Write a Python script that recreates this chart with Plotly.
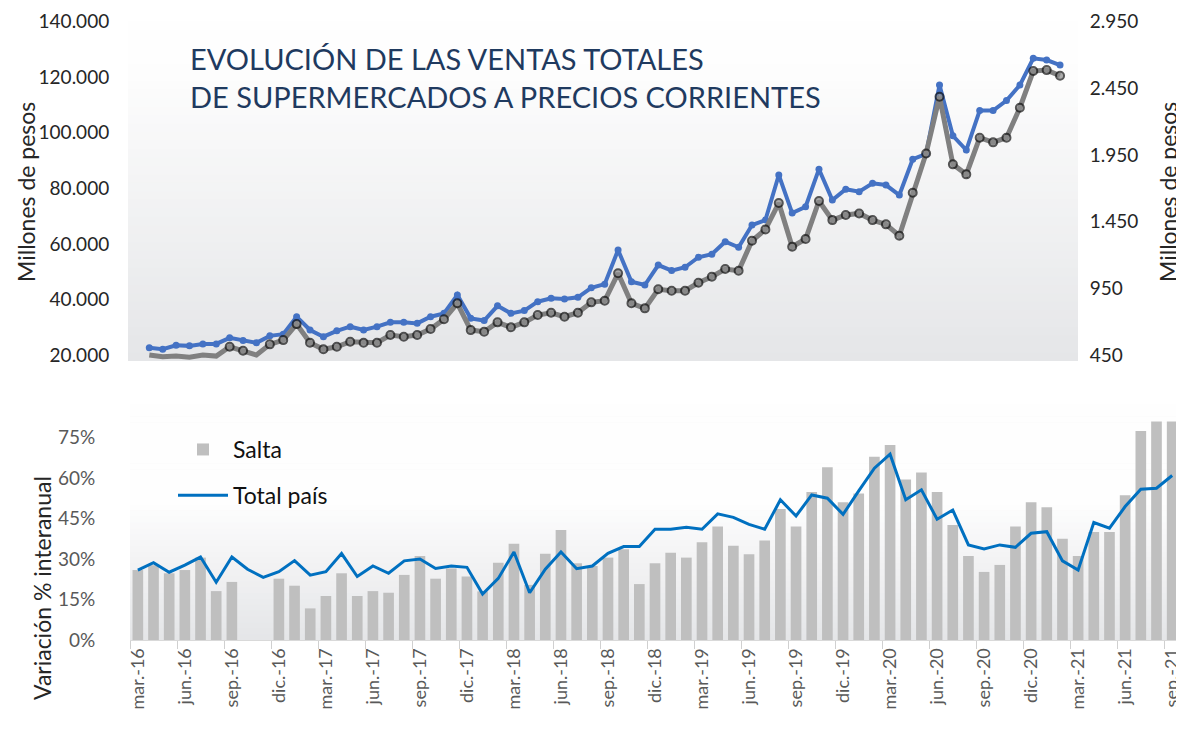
import plotly.graph_objects as go

# ---------------- data ----------------
meses_top = [
    "ene.-16", "feb.-16", "mar.-16", "abr.-16", "may.-16", "jun.-16", "jul.-16", "ago.-16", "sep.-16", "oct.-16", "nov.-16", "dic.-16",
    "ene.-17", "feb.-17", "mar.-17", "abr.-17", "may.-17", "jun.-17", "jul.-17", "ago.-17", "sep.-17", "oct.-17", "nov.-17", "dic.-17",
    "ene.-18", "feb.-18", "mar.-18", "abr.-18", "may.-18", "jun.-18", "jul.-18", "ago.-18", "sep.-18", "oct.-18", "nov.-18", "dic.-18",
    "ene.-19", "feb.-19", "mar.-19", "abr.-19", "may.-19", "jun.-19", "jul.-19", "ago.-19", "sep.-19", "oct.-19", "nov.-19", "dic.-19",
    "ene.-20", "feb.-20", "mar.-20", "abr.-20", "may.-20", "jun.-20", "jul.-20", "ago.-20", "sep.-20", "oct.-20", "nov.-20", "dic.-20",
    "ene.-21", "feb.-21", "mar.-21", "abr.-21", "may.-21", "jun.-21", "jul.-21", "ago.-21", "sep.-21",
]
meses_var = meses_top[2:]  # mar.-16 ... sep.-21

# Ventas a precios corrientes (millones de pesos)
ventas_total_pais = [
    22600, 22100, 23500, 23300, 24000, 24000, 26200, 25200, 24400, 26900,
    27500, 33800, 29000, 26600, 28700, 30200, 29000, 30200, 31800, 31800,
    31400, 33800, 35000, 41600, 33200, 32400, 37700, 35000, 36000, 39200,
    40400, 40200, 40800, 44200, 45500, 57800, 46400, 45200, 52400, 50400,
    51600, 55200, 56300, 60800, 58800, 66800, 68600, 84800, 71100, 73400,
    86900, 75800, 79700, 78800, 81800, 81200, 77600, 90500, 92400, 117200,
    98900, 93800, 108000, 108000, 111600, 117200, 126800, 126200, 124400,
]
ventas_salta = [
    450, 437, 442, 433, 450, 442, 512, 482, 450, 530,
    562, 682, 542, 493, 512, 550, 542, 542, 600, 587,
    600, 645, 718, 838, 637, 625, 695, 658, 695, 750,
    767, 737, 767, 845, 857, 1063, 838, 800, 943, 932,
    932, 992, 1037, 1095, 1082, 1307, 1392, 1590, 1262, 1320,
    1605, 1462, 1500, 1512, 1462, 1430, 1345, 1667, 1962, 2387,
    1880, 1805, 2080, 2045, 2080, 2305, 2580, 2587, 2545,
]
# months of the Salta series drawn without a marker
salta_sin_marcador = ["ene.-16", "feb.-16", "mar.-16", "abr.-16", "may.-16", "jun.-16", "sep.-16"]

# Variación % interanual
var_salta = [
    25.9, 27.7, 24.7, 25.9, 30.5, 18.1, 21.5, None, None, 22.7,
    20.1, 11.7, 16.3, 24.7, 16.3, 18.1, 17.5, 24.1, 31.1, 22.7,
    26.5, 23.5, 18.0, 28.6, 35.6, 20.4, 31.9, 40.7, 28.4, 27.4,
    30.5, 33.6, 20.7, 28.4, 32.3, 30.5, 36.2, 42.0, 34.9, 31.7,
    36.8, 48.5, 42.0, 54.8, 64.0, 51.0, 54.2, 67.8, 72.2, 59.4,
    62.0, 54.8, 42.6, 31.1, 25.2, 27.8, 42.0, 51.0, 49.1, 37.5,
    31.1, 40.0, 40.0, 53.6, 77.4, 80.9, 80.9,
]
var_total_pais = [
    25.9, 28.6, 25.1, 27.7, 30.7, 21.4, 30.7, 26.2, 23.2, 25.3,
    29.4, 24.0, 25.3, 32.0, 23.5, 27.4, 24.7, 29.3, 30.0, 26.5,
    27.4, 26.9, 17.0, 22.8, 32.6, 17.5, 26.2, 32.6, 26.4, 27.4,
    32.1, 34.6, 34.6, 41.0, 41.0, 41.7, 41.0, 46.7, 45.4, 42.8,
    41.0, 51.9, 45.9, 53.7, 52.5, 46.5, 55.2, 63.6, 68.8, 51.9,
    55.6, 44.7, 48.1, 35.2, 33.7, 35.2, 34.3, 39.5, 40.1, 29.3,
    25.9, 43.5, 41.4, 49.4, 55.8, 56.2, 60.9,
]

ticks_izq = [20000, 40000, 60000, 80000, 100000, 120000, 140000]
ticks_der = [450, 950, 1450, 1950, 2450, 2950]
ticks_var = [0, 15, 30, 45, 60, 75]
ticks_var_txt = ["0%", "15%", "30%", "45%", "60%", "75%"]
ticks_meses = meses_var[::3]

titulo = "EVOLUCIÓN DE LAS VENTAS TOTALES<br>DE SUPERMERCADOS A PRECIOS CORRIENTES"

# ---------------- figure ----------------
# the page body has an 8px margin: the figure is sized to fit the 1184x738 window
OFF = 8
W, H = 1184 - OFF, 738 - OFF
FONT = "Lato"
DARK = "#262626"
GREY_TXT = "#595959"


def px_x(v):
    return (v - OFF) / W


def px_y(v):
    return 1 - (v - OFF) / H


fig = go.Figure()

# top panel
fig.add_trace(go.Scatter(
    x=meses_top, y=ventas_total_pais, name="Total país", xaxis="x", yaxis="y",
    mode="lines+markers", line=dict(color="#4472C4", width=4),
    marker=dict(size=7, color="#4472C4"), showlegend=False,
))
marker_sizes = [0 if m in salta_sin_marcador else 8 for m in meses_top]
fig.add_trace(go.Scatter(
    x=meses_top, y=ventas_salta, name="Salta", xaxis="x", yaxis="y2",
    mode="lines+markers", line=dict(color="#808080", width=5),
    marker=dict(size=marker_sizes, color="#8C8C8C", line=dict(color="#111111", width=2)),
    showlegend=False,
))

# bottom panel
fig.add_trace(go.Bar(
    x=meses_var, y=var_salta, name="Salta", xaxis="x2", yaxis="y3",
    marker=dict(color="#BFBFBF"), legendgroup="a",
))
fig.add_trace(go.Scatter(
    x=meses_var, y=var_total_pais, name="Total país", xaxis="x2", yaxis="y3",
    mode="lines", line=dict(color="#0070C0", width=3), legendgroup="b",
))


# gradient backgrounds
def gradient(xref, yref, n=40, top=(254, 254, 254), bottom=(229, 230, 232), frac=1.0):
    shapes = []
    for i in range(n):
        t = i / (n - 1)  # 0 at bottom, 1 at top
        tt = min(1.0, t / frac)
        c = tuple(int(round(bottom[k] + (top[k] - bottom[k]) * tt)) for k in range(3))
        shapes.append(dict(
            type="rect", xref=xref, yref=yref, x0=0, x1=1,
            y0=i / n, y1=(i + 1) / n + 0.002, layer="below",
            line=dict(width=0), fillcolor=f"rgb{c}",
        ))
    return shapes


shapes = gradient("x domain", "y domain", frac=0.9) + gradient("x2 domain", "y3 domain", frac=0.6)

top_dom = [px_y(361), px_y(21.7)]
bot_dom = [px_y(640), px_y(405)]

fig.update_layout(
    template="none",
    width=W, height=H,
    margin=dict(l=0, r=0, t=0, b=0, autoexpand=False),
    paper_bgcolor="white",
    plot_bgcolor="rgb(229,230,232)",
    separators=",.",
    font=dict(family=FONT, color=DARK, size=17),
    shapes=shapes,
    bargap=0.32,
    xaxis=dict(
        domain=[px_x(128), px_x(1078)], anchor="y", type="category", automargin=False,
        categoryorder="array", categoryarray=meses_top,
        range=[-1.59, 69.34], showticklabels=False, ticks="",
        showgrid=False, zeroline=False, showline=False,
    ),
    yaxis=dict(
        domain=top_dom, anchor="x", automargin=False,
        range=[140000 - 339.3 * 360, 140000],
        tickmode="array", tickvals=ticks_izq, tickformat=",d",
        showgrid=False, zeroline=False, showline=False,
        ticks="outside", ticklen=14, tickcolor="rgba(0,0,0,0)",
        tickfont=dict(family=FONT, size=19, color=DARK),
    ),
    yaxis2=dict(
        overlaying="y", side="right", anchor="x", automargin=False,
        range=[2950 - 339.3 * 7.5, 2950],
        tickmode="array", tickvals=ticks_der, tickformat=",d",
        showgrid=False, zeroline=False, showline=False,
        ticks="outside", ticklen=7, tickcolor="rgba(0,0,0,0)",
        tickfont=dict(family=FONT, size=19, color=DARK),
    ),
    xaxis2=dict(
        domain=[px_x(130), px_x(1180)], anchor="y3", type="category", automargin=False,
        categoryorder="array", categoryarray=meses_var,
        range=[-0.5, 66.5],
        tickmode="array", tickvals=ticks_meses, tickson="boundaries",
        tickangle=-90, ticks="outside", ticklen=8, tickcolor="#D0D0D0", tickwidth=1,
        showline=True, linecolor="#D9D9D9", linewidth=1,
        showgrid=False, zeroline=False,
        tickfont=dict(family=FONT, size=18, color=GREY_TXT),
    ),
    yaxis3=dict(
        domain=bot_dom, anchor="x2", automargin=False,
        range=[0, 87],
        tickmode="array", tickvals=ticks_var, ticktext=ticks_var_txt,
        showgrid=False, zeroline=False, showline=False,
        ticks="outside", ticklen=30, tickcolor="rgba(0,0,0,0)",
        tickfont=dict(family=FONT, size=19, color=GREY_TXT),
    ),
    legend=dict(
        x=px_x(173), y=px_y(428), xanchor="left", yanchor="top",
        bgcolor="rgba(0,0,0,0)", font=dict(family=FONT, size=23, color="#111111"),
        tracegroupgap=13, itemwidth=50,
    ),
    annotations=[
        dict(text=titulo, x=px_x(188), y=px_y(78), xref="paper", yref="paper",
             xanchor="left", yanchor="middle", align="left", showarrow=False,
             font=dict(family=FONT, size=29, color="#1F3A5F")),
        dict(text="Millones de pesos", x=px_x(26), y=px_y(192), xref="paper", yref="paper",
             xanchor="center", yanchor="middle",
             textangle=-90, showarrow=False, font=dict(family=FONT, size=23, color=DARK)),
        dict(text="Millones de pesos", x=px_x(1168), y=px_y(192), xref="paper", yref="paper",
             xanchor="center", yanchor="middle",
             textangle=-90, showarrow=False, font=dict(family=FONT, size=23, color=DARK)),
        dict(text="Variación % interanual", x=px_x(42), y=px_y(588), xref="paper", yref="paper",
             xanchor="center", yanchor="middle",
             textangle=-90, showarrow=False, font=dict(family=FONT, size=23, color=DARK)),
    ],
)

fig.write_html("out.html")
